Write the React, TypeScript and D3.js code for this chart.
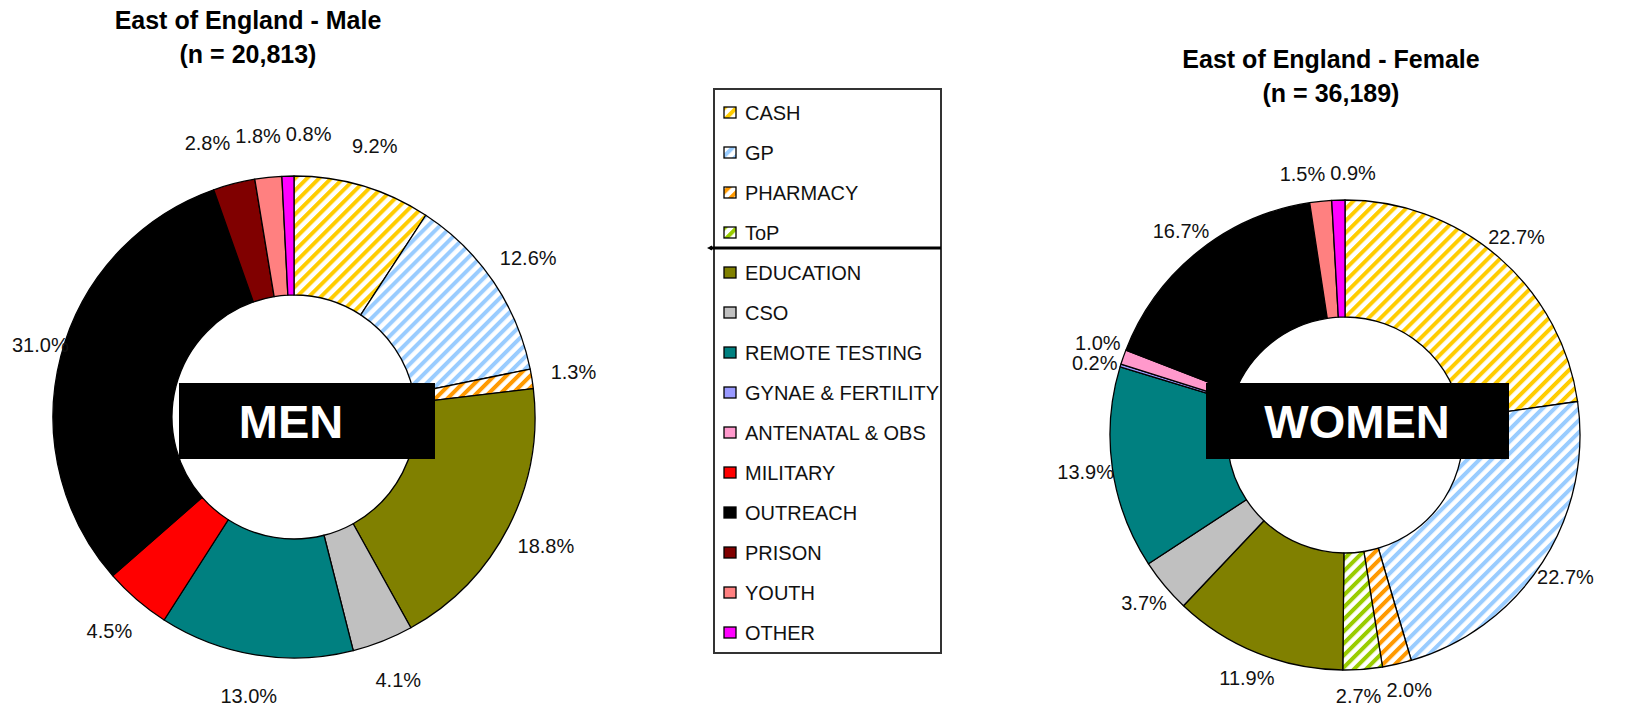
import React from 'react';
import * as d3 from 'd3';

const categories = [
  'CASH', 'GP', 'PHARMACY', 'ToP', 'EDUCATION', 'CSO', 'REMOTE TESTING',
  'GYNAE & FERTILITY', 'ANTENATAL & OBS', 'MILITARY', 'OUTREACH', 'PRISON', 'YOUTH', 'OTHER',
];
const colors = [
  '#FFCC00', '#99CCFF', '#FF9900', '#99CC00', '#808000', '#C0C0C0', '#008080',
  '#9999FF', '#FF99CC', '#FF0000', '#000000', '#800000', '#FF8080', '#FF00FF',
];
const hatched = [true, true, true, true, false, false, false, false, false, false, false, false, false, false];

const maleValues = [9.2, 12.6, 1.3, 0, 18.8, 4.1, 13.0, 0, 0, 4.5, 31.0, 2.8, 1.8, 0.8];
const femaleValues = [22.7, 22.7, 2.0, 2.7, 11.9, 3.7, 13.9, 0.2, 1.0, 0, 16.7, 0, 1.5, 0.9];

const maleTitle = ['East of England - Male', '(n = 20,813)'];
const femaleTitle = ['East of England - Female', '(n = 36,189)'];
const maleBanner = 'MEN';
const femaleBanner = 'WOMEN';

const FONT = "'Liberation Sans', Arial, Helvetica, sans-serif";
const LABEL_SIZE = 20;

const charW: Record<string, number> = { '.': 0.278, '%': 0.889 };
function textWidth(t: string, size: number) {
  let w = 0;
  for (const c of t) w += charW[c] !== undefined ? charW[c] : 0.556;
  return w * size;
}

function fillFor(i: number) {
  return hatched[i] ? `url(#hatch-${i})` : colors[i];
}

type DonutProps = {
  cx: number; cy: number; outer: number; inner: number; labelR: number;
  values: number[]; minX: number;
};

function Donut({ cx, cy, outer, inner, labelR, values, minX }: DonutProps) {
  const pie = d3.pie<number>().value((d) => d).sort(null);
  const arcsAll = pie(values).map((a, i) => ({ ...a, idx: i }));
  const arcs = arcsAll.filter((a) => a.value > 0);
  const arc = d3.arc<any>().innerRadius(inner).outerRadius(outer);
  const labelArc = d3.arc<any>().innerRadius(labelR).outerRadius(labelR);

  const labels = arcs.map((a) => {
    const [x, y] = labelArc.centroid(a);
    const mid = (a.startAngle + a.endAngle) / 2;
    const text = a.value.toFixed(1) + '%';
    return { x: x + cx, y: y + cy, mid, text, w: textWidth(text, LABEL_SIZE), h: 20 };
  });
  labels.forEach((l) => {
    if (l.x - l.w / 2 < minX) l.x = minX + l.w / 2;
  });
  const padX = 5;
  for (let it = 0; it < 80; it++) {
    for (let i = 0; i < labels.length; i++) {
      for (let j = i + 1; j < labels.length; j++) {
        const a = labels[i];
        const b = labels[j];
        const dx = b.x - a.x;
        const dy = b.y - a.y;
        const ox = (a.w + b.w) / 2 + padX - Math.abs(dx);
        const oy = (a.h + b.h) / 2 - Math.abs(dy);
        if (ox > 0.01 && oy > 0.01) {
          const horiz = Math.abs(Math.cos(a.mid)) > 0.6 && Math.abs(Math.cos(b.mid)) > 0.6;
          if (horiz) {
            const s = dx === 0 ? 1 : Math.sign(dx);
            a.x -= (s * ox) / 2;
            b.x += (s * ox) / 2;
          } else {
            const s = dy === 0 ? 1 : Math.sign(dy);
            a.y -= (s * oy) / 2;
            b.y += (s * oy) / 2;
          }
        }
      }
    }
  }

  return (
    <g>
      <g transform={`translate(${cx},${cy})`}>
        {arcs.map((a) => (
          <path
            key={a.idx}
            d={arc(a) as string}
            fill={fillFor(a.idx)}
            stroke="#000"
            strokeWidth={1.3}
            strokeLinejoin="round"
          />
        ))}
      </g>
      {labels.map((l, i) => (
        <text
          key={i}
          x={l.x}
          y={l.y}
          dy="0.35em"
          textAnchor="middle"
          fontFamily={FONT}
          fontSize={LABEL_SIZE}
          fill="#111"
        >
          {l.text}
        </text>
      ))}
    </g>
  );
}

function Title({ x, y, lines }: { x: number; y: number; lines: string[] }) {
  return (
    <text x={x} y={y} textAnchor="middle" fontFamily={FONT} fontWeight="bold" fontSize={25} fill="#000">
      {lines.map((t, i) => (
        <tspan key={i} x={x} dy={i === 0 ? 0 : 34}>
          {t}
        </tspan>
      ))}
    </text>
  );
}

function Legend({ x, y, w, h }: { x: number; y: number; w: number; h: number }) {
  const yScale = d3.scalePoint<string>().domain(categories).range([y + 24, y + 24 + 40 * (categories.length - 1)]);
  const sepY = ((yScale('ToP') as number) + (yScale('EDUCATION') as number)) / 2 - 5;
  return (
    <g>
      <rect x={x} y={y} width={w} height={h} fill="#fff" stroke="#333" strokeWidth={2} />
      {categories.map((c, i) => {
        const cy = yScale(c) as number;
        return (
          <g key={c}>
            <rect x={x + 10} y={cy - 6} width={12} height={11} fill={fillFor(i)} stroke="#000" strokeWidth={1.3} />
            <text x={x + 31} y={cy} dy="0.36em" fontFamily={FONT} fontSize={20} fill="#111">
              {c}
            </text>
          </g>
        );
      })}
      <line x1={x - 4} y1={sepY} x2={x + w} y2={sepY} stroke="#000" strokeWidth={3} />
      <path d={`M${x - 7},${sepY} L${x - 2},${sepY - 2.5} L${x - 2},${sepY + 2.5} Z`} fill="#000" />
    </g>
  );
}

function Banner({ x, y, w, h, text, tx, size }: { x: number; y: number; w: number; h: number; text: string; tx: number; size: number }) {
  return (
    <g>
      <rect x={x} y={y} width={w} height={h} fill="#000" />
      <text x={tx} y={y + h / 2} dy="0.36em" textAnchor="middle" fontFamily={FONT} fontWeight="bold" fontSize={size} fill="#fff">
        {text}
      </text>
    </g>
  );
}

export default function App() {
  return (
    <svg
      width={1630}
      height={720}
      viewBox="0 0 1630 720"
      style={{ position: 'absolute', left: 0, top: 0, background: '#fff' }}
    >
      <defs>
        {categories.map((c, i) =>
          hatched[i] ? (
            <pattern
              key={c}
              id={`hatch-${i}`}
              patternUnits="userSpaceOnUse"
              width={8.5}
              height={8.5}
              patternTransform="rotate(45)"
            >
              <rect width={8.5} height={8.5} fill="#fff" />
              <rect width={4} height={8.5} fill={colors[i]} />
            </pattern>
          ) : null
        )}
      </defs>
      <rect width={1630} height={720} fill="#fff" />

      <Title x={248} y={29} lines={maleTitle} />
      <Title x={1331} y={68} lines={femaleTitle} />

      <Donut cx={294} cy={417} outer={241} inner={122} labelR={283} values={maleValues} minX={12} />
      <Donut cx={1345} cy={435} outer={235} inner={118} labelR={262} values={femaleValues} minX={1040} />

      <Banner x={179} y={383} w={256} h={76} text={maleBanner} tx={291} size={47} />
      <Banner x={1206} y={383} w={303} h={76} text={femaleBanner} tx={1357} size={47} />

      <Legend x={714} y={89} w={227} h={564} />
    </svg>
  );
}
